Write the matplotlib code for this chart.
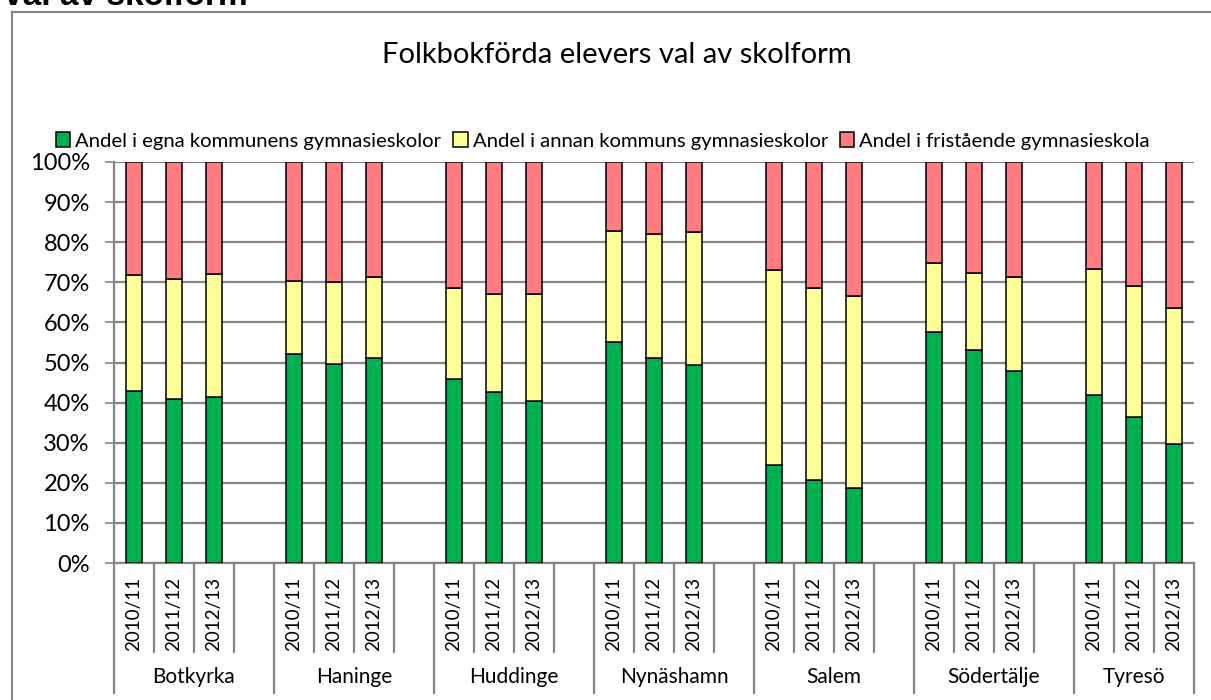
import matplotlib
matplotlib.use("Agg")
import matplotlib.pyplot as plt
from matplotlib.patches import Patch
from matplotlib.lines import Line2D
import matplotlib.transforms as mtransforms

plt.rcParams['font.family'] = ['Lato', 'DejaVu Sans']

# ---- data (percent) ----
municipalities = ["Botkyrka", "Haninge", "Huddinge", "Nynäshamn", "Salem", "Södertälje", "Tyresö"]
years = ["2010/11", "2011/12", "2012/13"]
egna = [43.0, 40.8, 41.5,  52.2, 49.7, 51.2,  46.0, 42.7, 40.5,  55.1, 51.0, 49.5,
        24.4, 20.6, 18.7,  57.6, 53.0, 48.0,  41.8, 36.3, 29.8]
annan = [28.7, 30.1, 30.6,  18.2, 20.3, 20.2,  22.7, 24.3, 26.7,  27.6, 31.1, 33.0,
         48.6, 48.0, 48.0,  17.2, 19.2, 23.2,  31.4, 32.9, 33.9]
fristaende = [28.3, 29.1, 27.9,  29.6, 30.0, 28.6,  31.3, 33.0, 32.8,  17.3, 17.9, 17.5,
              27.0, 31.4, 33.3,  25.2, 27.8, 28.8,  26.8, 30.8, 36.3]
series_names = ["Andel i egna kommunens gymnasieskolor",
                "Andel i annan kommuns gymnasieskolor",
                "Andel i fristående gymnasieskola"]
title = "Folkbokförda elevers val av skolform"
yticks = [0, 10, 20, 30, 40, 50, 60, 70, 80, 90, 100]

colors = ["#00B050", "#FFFF99", "#FF7C80"]
grid_c = "#868686"

W, H = 1211, 700
fig = plt.figure(figsize=(W / 100, H / 100), dpi=100)

def fx(px):
    return px / W

def fy(py):
    return 1 - py / H

# plot area
x0, x1, ytop, ybot = 114, 1194, 162, 563
ax = fig.add_axes([fx(x0), fy(ybot), fx(x1) - fx(x0), fy(ytop) - fy(ybot)])

ng = len(municipalities)
ny = len(years)
slot = ny + 1
positions = []
for gi in range(ng):
    for yi in range(ny):
        positions.append(gi * slot + yi)
nslots = ng * slot - 1

bw = 0.42
bottoms2 = [a for a in egna]
bottoms3 = [a + b for a, b in zip(egna, annan)]
kw = dict(width=bw, edgecolor="black", linewidth=1.1, zorder=3)
ax.bar(positions, egna, color=colors[0], **kw)
ax.bar(positions, annan, bottom=bottoms2, color=colors[1], **kw)
ax.bar(positions, fristaende, bottom=bottoms3, color=colors[2], **kw)

ax.set_xlim(-0.5, nslots - 0.5)
ax.set_ylim(0, 100)
ax.set_yticks(yticks)
ax.set_yticklabels([f"{v}%" for v in yticks], fontsize=17)
ax.yaxis.grid(True, color=grid_c, linewidth=1.6, zorder=0)
ax.set_axisbelow(True)
ax.tick_params(axis='y', length=6.5, width=1.2, color=grid_c, pad=11)
ax.set_xticks([])
for s in ["top", "right"]:
    ax.spines[s].set_visible(False)
for s in ["left", "bottom"]:
    ax.spines[s].set_color(grid_c)
    ax.spines[s].set_linewidth(1.6)

# multi-level category axis
trans = mtransforms.blended_transform_factory(ax.transData, fig.transFigure)
y_axis = fy(ybot)
y_mid = fy(652)
y_low = fy(693)
for k in range(nslots + 1):
    xb = k - 0.5
    is_group = (k % slot == 0) or (k == nslots)
    ax.add_line(Line2D([xb, xb], [y_axis, y_low if is_group else y_mid], transform=trans,
                       color=grid_c, linewidth=1.6, clip_on=False))
for p in range(len(positions)):
    ax.text(positions[p], fy(577), years[p % ny], transform=trans, rotation=90,
            ha="center", va="top", fontsize=13.5)
for gi, name in enumerate(municipalities):
    start = gi * slot - 0.5
    end = min(gi * slot + slot - 0.5, nslots - 0.5)
    ax.text((start + end) / 2, fy(677), name, transform=trans, ha="center", va="center",
            fontsize=15)

# title and legend
fig.text(fx(617), fy(55), title, ha="center", va="center", fontsize=21)
handles = [Patch(facecolor=c, edgecolor="black", linewidth=1.1) for c in colors]
fig.legend(handles, series_names, loc="center", bbox_to_anchor=(fx(603), fy(141)), ncol=3,
           frameon=False, fontsize=14.6, handlelength=0.7, handleheight=0.7,
           handletextpad=0.25, columnspacing=0.6)

# chart border
fig.add_artist(Line2D([fx(12), fx(1211)], [fy(12), fy(12)], color=grid_c, linewidth=1.6))
fig.add_artist(Line2D([fx(12), fx(12)], [fy(12), fy(700)], color=grid_c, linewidth=1.6))

# heading above the chart (cut off at the top edge, as in the reference)
fig.text(fx(4), fy(5), "val av skolform", ha="left", va="baseline", fontsize=24,
         fontweight="bold", family=["Liberation Sans", "DejaVu Sans"])

fig.savefig("out.png", dpi=100, facecolor="white")
